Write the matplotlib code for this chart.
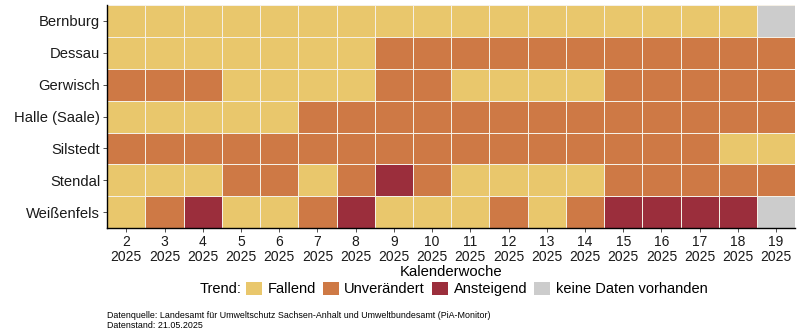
import matplotlib.pyplot as plt
import numpy as np
from matplotlib.colors import ListedColormap
from matplotlib.patches import Patch

plt.rcParams['font.family'] = ['Liberation Sans', 'DejaVu Sans']

standorte = ["Bernburg", "Dessau", "Gerwisch", "Halle (Saale)", "Silstedt", "Stendal", "Weißenfels"]
wochen = [str(w) for w in range(2, 20)]
jahr = "2025"

# F = Fallend, U = Unverändert, A = Ansteigend, N = keine Daten
trend_bernburg = list("FFFFFFFFFFFFFFFFFN")
trend_dessau = list("FFFFFFFUUUUUUUUUUU")
trend_gerwisch = list("UUUFFFFUUFFFFUUUUU")
trend_halle = list("FFFFFUUUUUUUUUUUUU")
trend_silstedt = list("UUUUUUUUUUUUUUUUFF")
trend_stendal = list("FFFUUFUAUFFFFUUUUU")
trend_weissenfels = list("FUAFFUAFFFUFUAAAAN")

kategorien = ["F", "U", "A", "N"]
labels = ["Fallend", "Unverändert", "Ansteigend", "keine Daten vorhanden"]
farben = ["#E9C76C", "#CE7945", "#9B2E3C", "#CCCCCC"]

trends = [trend_bernburg, trend_dessau, trend_gerwisch, trend_halle,
          trend_silstedt, trend_stendal, trend_weissenfels]
werte = np.array([[kategorien.index(t) for t in zeile] for zeile in trends])

fig = plt.figure(figsize=(8, 3.34), dpi=100)
ax = fig.add_axes([0.134, 0.317, 0.86, 0.668])

ax.pcolormesh(werte, cmap=ListedColormap(farben), vmin=-0.5, vmax=3.5,
              edgecolors="#F5F0E6", linewidth=0.6)
ax.set_xlim(0, len(wochen))
ax.set_ylim(len(standorte), 0)

ax.set_xticks(np.arange(len(wochen)) + 0.5)
ax.set_xticklabels([w + "\n" + jahr for w in wochen], fontsize=10, color="#1a1a1a", linespacing=1.05)
ax.set_yticks(np.arange(len(standorte)) + 0.5)
ax.set_yticklabels(standorte, fontsize=10.6, color="#1a1a1a")
ax.tick_params(length=3, width=0.6, color="#333333", pad=2)
ax.set_xlabel("Kalenderwoche", fontsize=10.7, labelpad=1)

for s in ["top", "right"]:
    ax.spines[s].set_visible(False)
for s in ["left", "bottom"]:
    ax.spines[s].set_linewidth(1.0)
    ax.spines[s].set_color("black")

handles = [Patch(facecolor=c, edgecolor="none") for c in farben]
fig.text(0.302, 0.135, "Trend:", fontsize=10.5, ha="right", va="center")
fig.legend(handles, labels, loc="center left", bbox_to_anchor=(0.308, 0.135), ncol=4,
           frameon=False, fontsize=10.5, handlelength=1.05, handleheight=1.05,
           handletextpad=0.4, columnspacing=0.5, borderpad=0, borderaxespad=0)

fig.text(0.134, 0.04, "Datenquelle: Landesamt für Umweltschutz Sachsen-Anhalt und Umweltbundesamt (PiA-Monitor)\nDatenstand: 21.05.2025",
         fontsize=6.4, ha="left", va="center", linespacing=1.1)

fig.savefig("out.png", dpi=100)
